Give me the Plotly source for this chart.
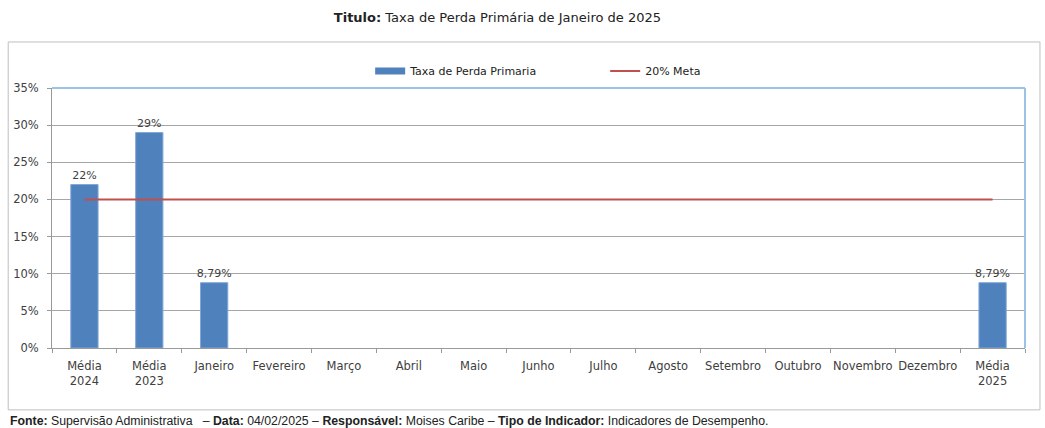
import plotly.graph_objs as go

categorias = ['Média<br>2024', 'Média<br>2023', 'Janeiro', 'Fevereiro', 'Março', 'Abril', 'Maio',
              'Junho', 'Julho', 'Agosto', 'Setembro', 'Outubro', 'Novembro', 'Dezembro', 'Média<br>2025']
taxa_perda = [0.22, 0.29, 0.0879, None, None, None, None, None, None, None, None, None, None, None, 0.0879]
rotulos = ['22%', '29%', '8,79%', '', '', '', '', '', '', '', '', '', '', '', '8,79%']
meta = [0.20] * len(categorias)

cor_barra = '#4F81BD'
fonte_eixo = dict(family='DejaVu Sans, Liberation Sans, Arial', size=11.5, color='#404040')

fig = go.Figure(
    data=[
        go.Bar(
            x=categorias,
            y=taxa_perda,
            name='Taxa de Perda Primaria',
            marker=dict(color=cor_barra, line=dict(color='#7FA7D6', width=1)),
            text=rotulos,
            textposition='outside',
            constraintext='none',
            textfont=dict(fonte_eixo, size=11),
            cliponaxis=False,
            showlegend=False,
        ),
        # entrada de legenda no estilo Excel (retângulo largo) para as barras
        go.Scatter(
            x=[None], y=[None],
            name='Taxa de Perda Primaria',
            mode='lines',
            line=dict(color=cor_barra, width=7),
        ),
        go.Scatter(
            x=categorias,
            y=meta,
            name='20% Meta',
            mode='lines',
            line=dict(color='#C0504D', width=2),
        ),
    ],
    layout=go.Layout(
        width=1045,
        height=428,
        margin=dict(l=52, r=20, t=88, b=80),
        paper_bgcolor='white',
        plot_bgcolor='white',
        bargap=0.58,
        title=dict(
            text='<b>Titulo:</b> Taxa de Perda Primária de Janeiro de 2025',
            x=0.476, y=0.96, xanchor='center', yanchor='middle',
            font=dict(family='DejaVu Sans, Liberation Sans, Arial', size=13, color='#222222'),
        ),
        xaxis=dict(
            tickfont=fonte_eixo,
            tickangle=0,
            showline=True, linecolor='#9a9a9a', linewidth=1,
            ticks='outside', tickson='boundaries', ticklen=4, tickcolor='#9a9a9a',
            ticklabelstandoff=7,
            showgrid=False,
        ),
        yaxis=dict(
            range=[0, 0.35], dtick=0.05, tickformat='.0%',
            tickfont=fonte_eixo,
            showline=True, linecolor='#9a9a9a', linewidth=1,
            ticks='outside', ticklen=4, tickcolor='#9a9a9a',
            ticklabelstandoff=6,
            showgrid=True, gridcolor='#a6a6a6', gridwidth=1,
            zeroline=False,
        ),
        legend=dict(
            orientation='h', x=0.327, y=1.065, xanchor='left', yanchor='middle',
            font=dict(family='DejaVu Sans, Liberation Sans, Arial', size=11, color='#222222'),
            entrywidth=190, itemwidth=30, bgcolor='rgba(0,0,0,0)',
        ),
        showlegend=True,
        shapes=[
            # moldura externa do gráfico
            dict(type='rect', xref='paper', yref='paper', x0=-0.045, x1=1.0154, y0=-0.238, y1=1.177,
                 line=dict(color='#bfbfbf', width=1), layer='below'),
            # bordas superior e direita da área de plotagem
            dict(type='line', xref='paper', yref='paper', x0=0, x1=1, y0=1, y1=1,
                 line=dict(color='#9cc3e6', width=2)),
            dict(type='line', xref='paper', yref='paper', x0=1, x1=1, y0=0, y1=1,
                 line=dict(color='#9cc3e6', width=2)),
        ],
        annotations=[
            dict(
                text='<b>Fonte:</b> Supervisão Administrativa   – <b>Data:</b> 04/02/2025 – <b>Responsável:</b> Moises Caribe – <b>Tipo de Indicador:</b> Indicadores de Desempenho.',
                xref='paper', yref='paper', x=-0.045, y=-0.281, xanchor='left', yanchor='middle',
                showarrow=False,
                font=dict(family='Liberation Sans, Arial', size=12.3, color='#222222'),
            )
        ],
    ),
)

fig.write_html('out.html', config={'displayModeBar': False},
               post_script="document.body.style.margin='0';")
